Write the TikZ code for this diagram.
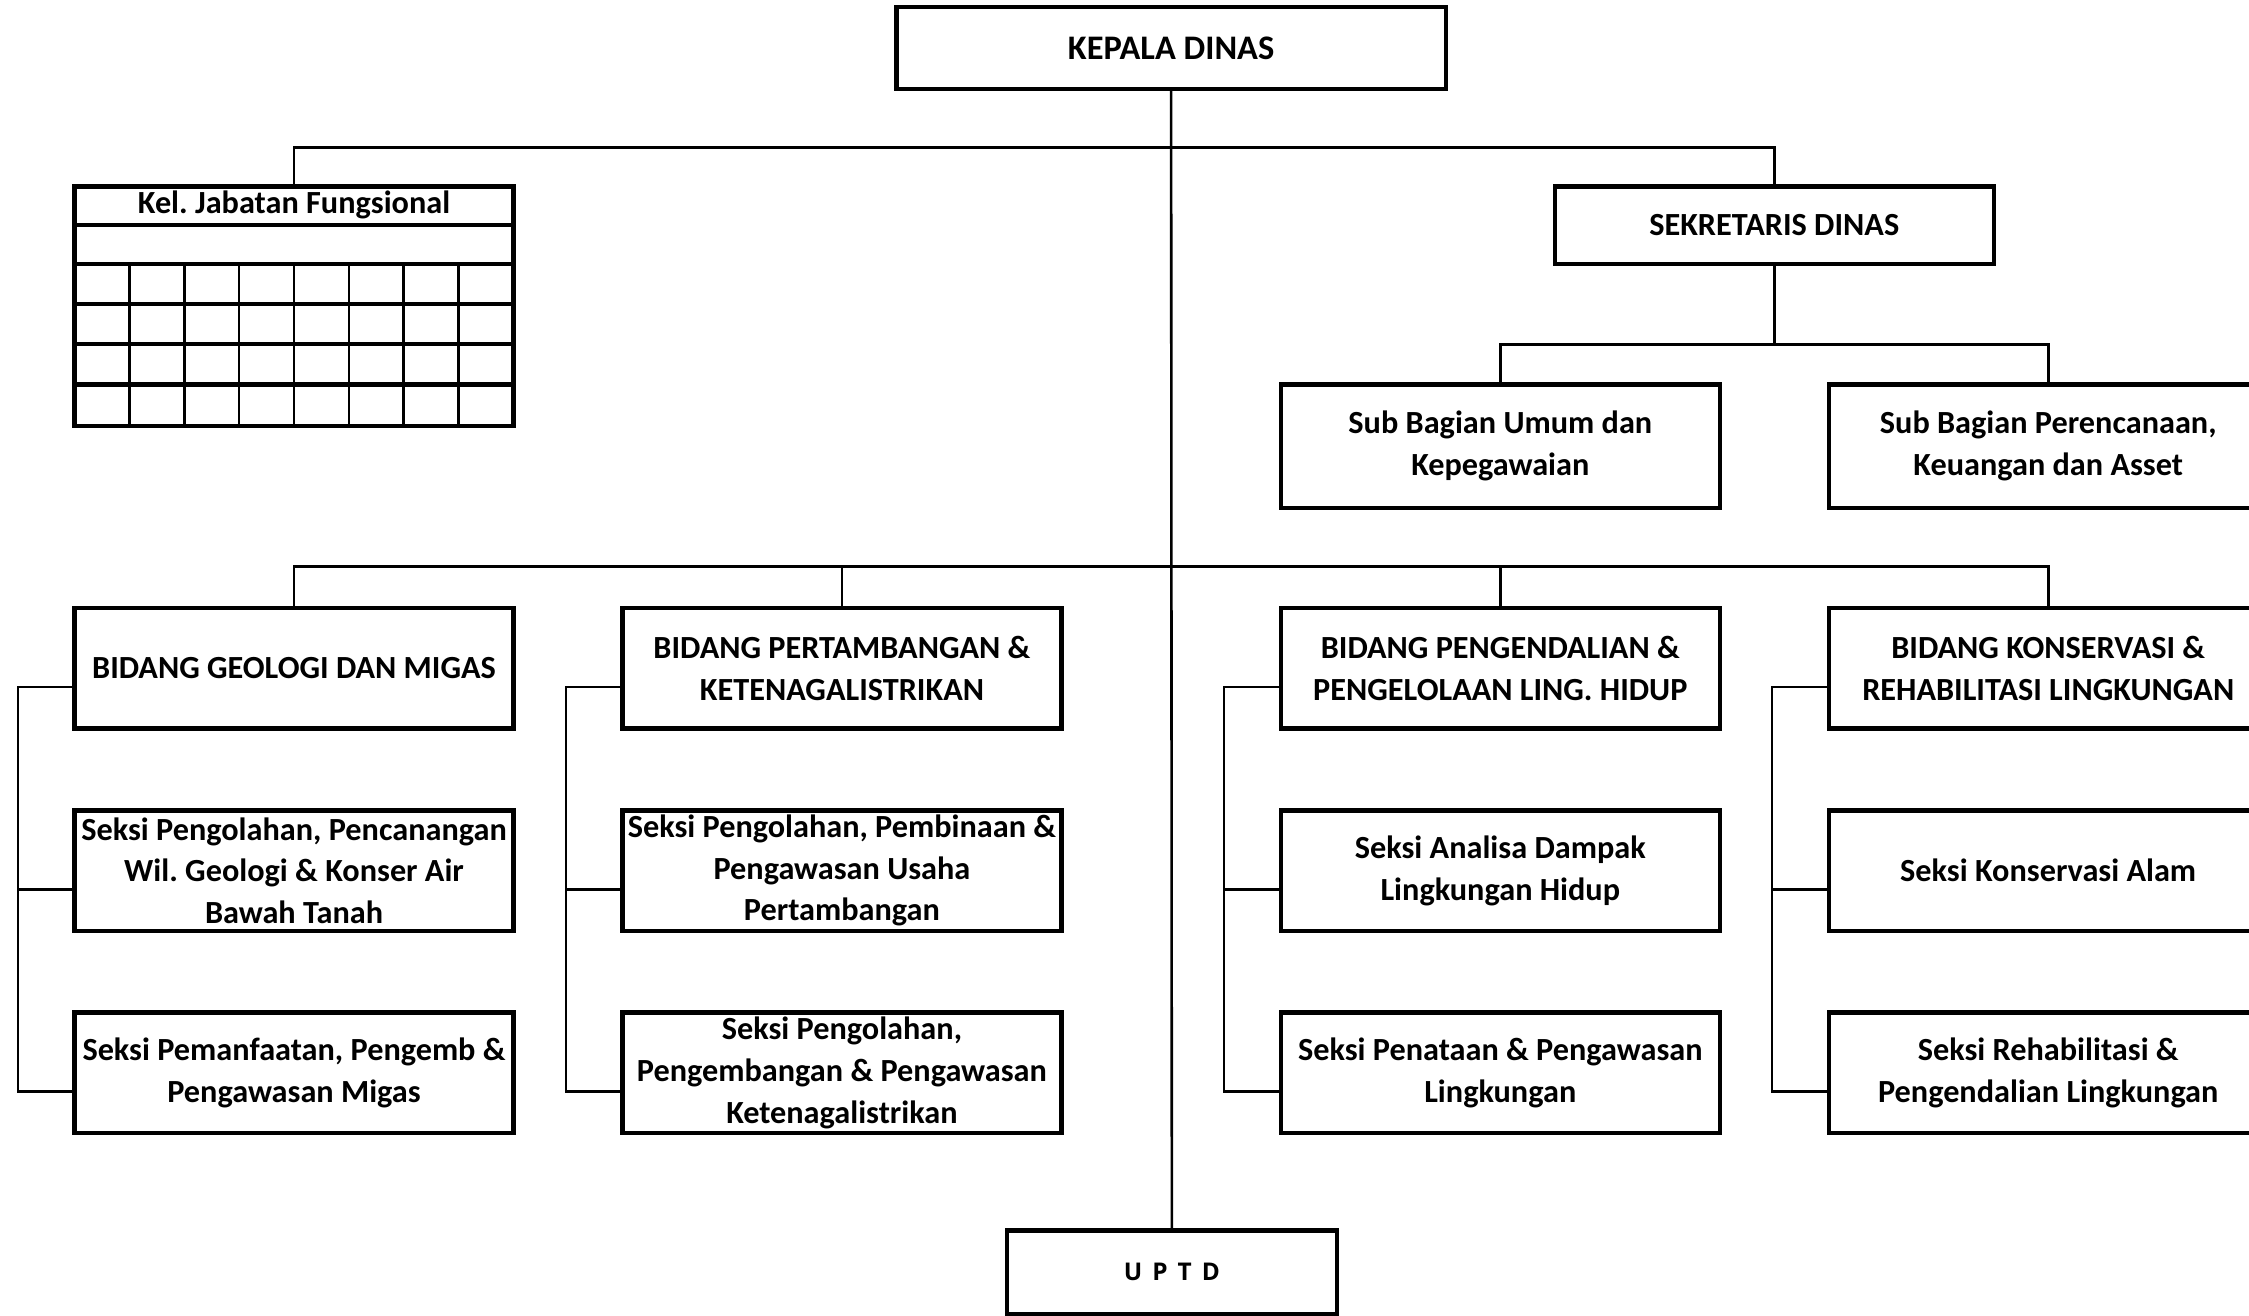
\documentclass[tikz,border=0pt]{standalone}
\usepackage{fontspec}
\setmainfont{Carlito}
\newfontfamily\uptdfont{Open Sans}
\frenchspacing
\begin{document}
\begin{tikzpicture}[x=1pt,y=-1pt,
  box/.style={draw,line width=3pt,rectangle,inner sep=0pt,align=center,
    font=\bfseries\fontsize{22.5}{29}\selectfont,minimum width=306pt},
  conn/.style={line width=1.8pt},
  thin/.style={line width=1.8pt}]
\useasboundingbox (0,0) rectangle (1568,917);
\clip (0,0) rectangle (1568,917);
% top
\node[box,minimum width=383pt,minimum height=57pt,font=\bfseries\fontsize{24}{29}\selectfont] (kepala) at (816.5,33.5) {KEPALA DINAS};
\node[box,minimum height=167pt] (kel) at (205,213.5) {};
\node[font=\bfseries\fontsize{22.5}{26}\selectfont,inner sep=0pt] (keltitle) at (205,143) {Kel. Jabatan Fungsional};
\draw[box] (kel.west |- 0,157) -- (kel.east |- 0,157);
\foreach \yy in {184,212,240,268} \draw[box] (kel.west |- 0,\yy) -- (kel.east |- 0,\yy);
\foreach \i in {1,...,7} \draw[thin] (52+\i*38.25,184) -- (52+\i*38.25,297);
\node[box,minimum height=54pt] (sek) at (1237,157) {SEKRETARIS DINAS};
\node[box,minimum height=86pt] (sub1) at (1046,311) {Sub Bagian Umum dan\\Kepegawaian};
\node[box,minimum height=86pt] (sub2) at (1428,311) {Sub Bagian Perencanaan,\\Keuangan dan Asset};
% bidang
\node[box,minimum height=84pt] (b1) at (205,466) {BIDANG GEOLOGI DAN MIGAS};
\node[box,minimum height=84pt] (b2) at (587,466) {BIDANG PERTAMBANGAN \&\\KETENAGALISTRIKAN};
\node[box,minimum height=84pt] (b3) at (1046,466) {BIDANG PENGENDALIAN \&\\PENGELOLAAN LING. HIDUP};
\node[box,minimum height=84pt] (b4) at (1428,466) {BIDANG KONSERVASI \&\\REHABILITASI LINGKUNGAN};
% seksi
\node[box,minimum height=84pt] (s11) at (205,607) {Seksi Pengolahan, Pencanangan\\Wil. Geologi \& Konser Air\\Bawah Tanah};
\node[box,minimum height=84pt] (s12) at (205,748) {Seksi Pemanfaatan, Pengemb \&\\Pengawasan Migas};
\node[box,minimum height=84pt] (s21) at (587,607) {Seksi Pengolahan, Pembinaan \&\\Pengawasan Usaha\\Pertambangan};
\node[box,minimum height=84pt] (s22) at (587,748) {Seksi Pengolahan,\\Pengembangan \& Pengawasan\\Ketenagalistrikan};
\node[box,minimum height=84pt] (s31) at (1046,607) {Seksi Analisa Dampak\\Lingkungan Hidup};
\node[box,minimum height=84pt] (s32) at (1046,748) {Seksi Penataan \& Pengawasan\\Lingkungan};
\node[box,minimum height=84pt] (s41) at (1428,607) {Seksi Konservasi Alam};
\node[box,minimum height=84pt] (s42) at (1428,748) {Seksi Rehabilitasi \&\\Pengendalian Lingkungan};
\node[box,minimum width=230pt,minimum height=58pt,font=\uptdfont\bfseries\fontsize{17}{20}\selectfont] (uptd) at (817,887) {U\hspace{7pt}P\hspace{7pt}T\hspace{7pt}D};
% connectors
\coordinate (j1) at (817,103);
\coordinate (j2) at (1237,240);
\coordinate (j3) at (817,395);
\draw[conn] (kepala.south) -- (uptd.north);
\draw[conn] (kel.north) |- (j1) -| (sek.north);
\draw[conn] (sek.south) -- (j2);
\draw[conn] (sub1.north) |- (j2) -| (sub2.north);
\draw[conn] (b1.north) |- (j3) -| (b4.north);
\draw[conn] (b2.north) -- (b2.north |- j3);
\draw[conn] (b3.north) -- (b3.north |- j3);
\foreach \b/\s/\t in {b1/s11/s12,b2/s21/s22,b3/s31/s32,b4/s41/s42}{
  \draw[conn] ([yshift=-13pt]\b.west) -- ++(-38pt,0) |- ([yshift=-13pt]\t.west);
  \draw[conn] ([yshift=-13pt]\s.west) -- ++(-38pt,0);
}
\end{tikzpicture}
\end{document}
